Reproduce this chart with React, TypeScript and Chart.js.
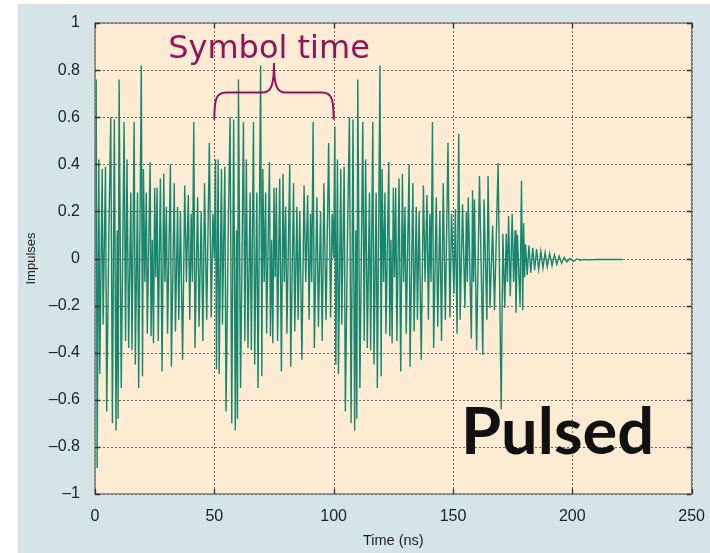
import { useEffect, useRef } from 'react';
import { Chart, registerables } from 'chart.js';

Chart.register(...registerables);

// ---- axis ticks ----
const xTickValues = [0, 50, 100, 150, 200, 250];
const yTickValues = [-1, -0.8, -0.6, -0.4, -0.2, 0, 0.2, 0.4, 0.6, 0.8, 1];

// ---- pulsed impulse response (time in ns, amplitude) ----
// three symbol periods of 50 ns that repeat (as in the picture), each opening with its own leading pair of peaks
const symbolStarts = [0, 50, 100];
const symbolLeadTimes = [0, 0.5, 0.9];
const symbolLeadValues1 = [0, 0.76, -0.89];
const symbolLeadValues2 = [0, 0.42, -0.47];
const symbolLeadValues3 = [0, 0.56, -0.45];
const symbolBodyTimes = [
  1.6, 2.0, 3.0, 3.4, 4.4, 4.9, 5.8, 6.6, 7.3, 8.1, 8.8, 9.3, 9.7, 10.1, 11.0, 12.2, 12.8, 13.4, 14.1, 15.0,
  15.5, 16.4, 16.9, 17.8, 18.3, 19.4, 19.9, 20.3, 20.9, 21.5, 21.9, 23.1, 23.5, 24.0, 24.5, 25.0, 25.5, 26.0,
  26.5, 27.4, 28.1, 28.8, 29.3, 29.9, 30.4, 31.6, 32.0, 33.2, 33.7, 34.6, 35.1, 35.8, 36.7, 37.6, 38.3, 39.1,
  39.7, 40.3, 40.8, 41.4, 41.9, 43.0, 43.6, 44.5, 45.2, 45.9, 46.8, 47.9, 48.7, 49.4,
];
const symbolBodyValues = [
  0.42, -0.49, 0.38, -0.28, 0.39, -0.65, 0.10, 0.60, -0.70, 0.59, -0.73, 0.12, -0.68, 0.76, -0.55, 0.58, -0.35, 0.42, -0.38, 0.28,
  -0.39, 0.58, -0.45, 0.28, -0.55, 0.82, -0.50, 0.38, -0.10, 0.28, -0.32, 0.41, -0.33, 0.08, -0.36, 0.30, -0.08, 0.30,
  -0.35, 0.34, -0.48, 0.36, -0.10, 0.22, -0.32, 0.40, -0.46, 0.32, -0.31, 0.22, -0.26, 0.20, -0.43, 0.31, -0.10, 0.27,
  -0.26, 0.19, -0.10, 0.58, -0.38, 0.26, -0.29, 0.20, -0.35, 0.32, -0.26, 0.49, -0.25, 0.19,
];
// last, truncated symbol (150-180 ns)
const tailTimes = [
  150.0, 150.4, 151.0, 151.7, 152.4, 153.0, 154.0, 155.0, 155.6, 156.0, 156.4, 157.7, 158.2, 158.6, 159.0, 159.9,
  161.1, 162.5, 163.0, 164.2, 164.7, 165.5, 166.6, 167.4, 168.9, 170.2, 170.9, 171.7, 172.3, 172.8, 173.3, 174.0,
  174.8, 175.4, 176.0, 176.4, 177.0, 178.1, 178.7, 179.2, 179.6, 180.0,
];
const tailValues = [
  0.0, -0.15, 0.21, -0.32, 0.53, -0.26, 0.23, -0.21, 0.2, -0.1, 0.26, -0.34, 0.29, -0.1, 0.25, -0.39,
  0.35, -0.41, 0.25, -0.26, 0.35, -0.21, 0.14, -0.22, 0.405, -0.64, 0.105, -0.21, 0.105, -0.1, 0.18, -0.16,
  0.19, -0.1, 0.12, -0.23, 0.1, -0.2, 0.33, -0.22, 0.15, -0.08,
];
// ring-down after the last pulse
const ringTimes = [
  180.4, 181.1, 181.8, 182.6, 183.4, 184.2, 185.0, 185.9, 186.8, 187.7, 188.6, 189.5, 190.5, 191.5, 192.5,
  193.5, 194.5, 195.5, 196.6, 197.7, 199.0, 200.5, 202.0, 203.5, 205.0, 207.0, 210.0, 215.0, 221.0,
];
const ringValues = [
  0.06, -0.07, 0.055, -0.06, 0.045, -0.05, 0.04, -0.045, 0.03, -0.04, 0.025, -0.035, 0.02, -0.03, 0.015,
  -0.025, 0.01, -0.02, 0.005, -0.015, 0.0, -0.012, -0.002, -0.008, -0.004, -0.006, -0.004, -0.004, -0.004,
];

// annotation: symbol time brace spans one symbol
const braceStart = 50;
const braceEnd = 100;

const BLUE = '#d5e4e7';
const PEACH = '#fdebd4';
const TEAL = '#15866f';
const MAROON = '#93145a';
const TICK_FONT = '"Liberation Sans", Arial, sans-serif';

function buildPoints() {
  const pts: { x: number; y: number }[] = [];
  const leads = [symbolLeadValues1, symbolLeadValues2, symbolLeadValues3];
  symbolStarts.forEach((s, k) => {
    symbolLeadTimes.forEach((t, i) => pts.push({ x: s + t, y: leads[k][i] }));
    symbolBodyTimes.forEach((t, i) => pts.push({ x: s + t, y: symbolBodyValues[i] }));
  });
  tailTimes.forEach((t, i) => pts.push({ x: t, y: tailValues[i] }));
  ringTimes.forEach((t, i) => pts.push({ x: t, y: ringValues[i] }));
  return pts;
}

function fmtY(v: number) {
  const r = Math.round(v * 10) / 10;
  if (r === 0) return '0';
  const s = Math.abs(r).toString();
  return r < 0 ? '\u2013' + s : s;
}

const decor = {
  id: 'decor',
  beforeDraw(chart: any) {
    const { ctx, chartArea: a, scales } = chart;
    const xs = scales.x;
    const ys = scales.y;
    ctx.save();
    ctx.fillStyle = '#ffffff';
    ctx.fillRect(0, 0, chart.width, chart.height);
    ctx.fillStyle = BLUE;
    ctx.fillRect(18, 4, chart.width - 18, chart.height - 4);
    ctx.fillStyle = PEACH;
    ctx.fillRect(a.left, a.top, a.right - a.left, a.bottom - a.top);
    // dashed grid
    ctx.strokeStyle = 'rgba(75,75,75,0.85)';
    ctx.lineWidth = 1;
    ctx.setLineDash([2, 2]);
    xTickValues.forEach((v) => {
      const x = Math.round(xs.getPixelForValue(v)) + 0.5;
      ctx.beginPath();
      ctx.moveTo(x, a.top);
      ctx.lineTo(x, a.bottom);
      ctx.stroke();
    });
    yTickValues.forEach((v) => {
      const y = Math.round(ys.getPixelForValue(v)) + 0.5;
      ctx.beginPath();
      ctx.moveTo(a.left, y);
      ctx.lineTo(a.right, y);
      ctx.stroke();
    });
    ctx.restore();
  },
  afterDraw(chart: any) {
    const { ctx, chartArea: a, scales } = chart;
    const xs = scales.x;
    const ys = scales.y;
    ctx.save();
    // frame
    ctx.strokeStyle = '#7d7d7d';
    ctx.lineWidth = 1.5;
    ctx.strokeRect(a.left, a.top, a.right - a.left, a.bottom - a.top);
    // inner tick marks
    ctx.strokeStyle = '#333';
    ctx.lineWidth = 1.3;
    xTickValues.forEach((v) => {
      const x = Math.round(xs.getPixelForValue(v)) + 0.5;
      ctx.beginPath();
      ctx.moveTo(x, a.bottom);
      ctx.lineTo(x, a.bottom - 5);
      ctx.moveTo(x, a.top);
      ctx.lineTo(x, a.top + 5);
      ctx.stroke();
    });
    yTickValues.forEach((v) => {
      const y = Math.round(ys.getPixelForValue(v)) + 0.5;
      ctx.beginPath();
      ctx.moveTo(a.left, y);
      ctx.lineTo(a.left + 5, y);
      ctx.moveTo(a.right, y);
      ctx.lineTo(a.right - 5, y);
      ctx.stroke();
    });
    // symbol-time brace
    const x0 = xs.getPixelForValue(braceStart);
    const x1 = xs.getPixelForValue(braceEnd);
    const xm = (x0 + x1) / 2;
    const yEnd = ys.getPixelForValue(0.59);
    const yBar = ys.getPixelForValue(0.705);
    const yTip = ys.getPixelForValue(0.83);
    ctx.strokeStyle = MAROON;
    ctx.lineWidth = 2;
    ctx.beginPath();
    ctx.moveTo(x0, yEnd);
    ctx.bezierCurveTo(x0, yBar + 6, x0 + 2, yBar, x0 + 12, yBar);
    ctx.lineTo(xm - 12, yBar);
    ctx.bezierCurveTo(xm - 3, yBar, xm, yBar - 6, xm, yTip);
    ctx.bezierCurveTo(xm, yBar - 6, xm + 3, yBar, xm + 12, yBar);
    ctx.lineTo(x1 - 12, yBar);
    ctx.bezierCurveTo(x1 - 2, yBar, x1, yBar + 6, x1, yEnd);
    ctx.stroke();
    ctx.fillStyle = MAROON;
    ctx.font = '32px "DejaVu Sans", sans-serif';
    ctx.textAlign = 'center';
    ctx.textBaseline = 'alphabetic';
    ctx.fillText('Symbol time', xm - 5, 58);
    // big label
    ctx.fillStyle = '#111';
    ctx.font = 'bold 65px Lato, "Noto Sans", sans-serif';
    ctx.textAlign = 'left';
    ctx.fillText('Pulsed', 461, 454);
    ctx.restore();
  },
};

export default function App() {
  const ref = useRef<HTMLCanvasElement | null>(null);
  useEffect(() => {
    if (!ref.current) return;
    const chart = new Chart(ref.current, {
      type: 'scatter',
      data: {
        datasets: [
          {
            data: buildPoints(),
            showLine: true,
            borderColor: TEAL,
            borderWidth: 1.4,
            pointRadius: 0,
            tension: 0,
          },
        ],
      },
      options: {
        animation: false,
        responsive: false,
        devicePixelRatio: 1,
        layout: { padding: { left: 0, right: 14, top: 23, bottom: 0 } },
        plugins: { legend: { display: false }, tooltip: { enabled: false } },
        scales: {
          x: {
            type: 'linear',
            min: 0,
            max: 250,
            afterBuildTicks: (s: any) => {
              s.ticks = xTickValues.map((v) => ({ value: v }));
            },
            afterFit: (s: any) => {
              s.height = 59;
            },
            grid: { display: false },
            border: { display: false },
            ticks: {
              font: { family: TICK_FONT, size: 16 },
              color: '#222',
              padding: 5,
              maxRotation: 0,
            },
            title: {
              display: true,
              text: 'Time (ns)',
              font: { family: TICK_FONT, size: 14.5 },
              color: '#222',
              padding: { top: 2, bottom: 3 },
            },
          },
          y: {
            type: 'linear',
            min: -1,
            max: 1,
            afterBuildTicks: (s: any) => {
              s.ticks = yTickValues.map((v) => ({ value: v }));
            },
            afterFit: (s: any) => {
              s.width = 95;
            },
            grid: { display: false },
            border: { display: false },
            ticks: {
              font: { family: TICK_FONT, size: 16 },
              color: '#222',
              padding: 7,
              callback: (v: any) => fmtY(Number(v)),
            },
            title: {
              display: true,
              text: 'Impulses',
              font: { family: TICK_FONT, size: 13 },
              color: '#222',
              padding: { top: 24, bottom: 0 },
            },
          },
        },
      },
      plugins: [decor],
    });
    return () => chart.destroy();
  }, []);
  return (
    <div style={{ position: 'fixed', left: 0, top: 0, width: 710, height: 553 }}>
      <canvas ref={ref} width={710} height={553} style={{ display: 'block' }} />
    </div>
  );
}
